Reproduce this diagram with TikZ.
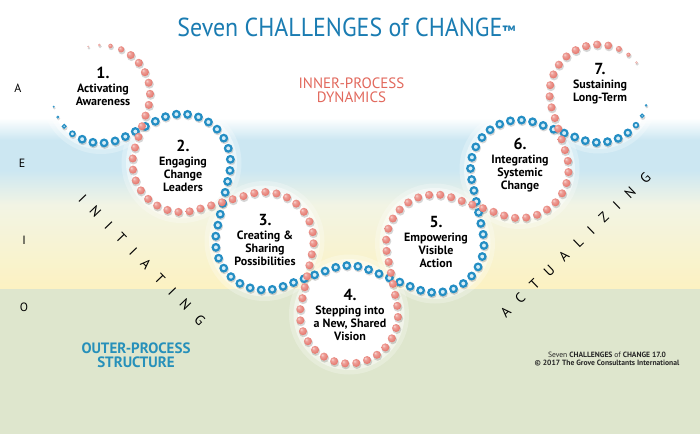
\documentclass[tikz,border=0pt]{standalone}
\usepackage{fontspec}
\usepackage{graphicx}
\setmainfont{PT Sans}
\usetikzlibrary{calc,decorations.markings}

\definecolor{bgblue}{RGB}{204,231,242}
\definecolor{bgmid}{RGB}{242,244,228}
\definecolor{bgyellow}{RGB}{252,242,194}
\definecolor{bggreen}{RGB}{222,230,205}
\definecolor{titleblue}{RGB}{26,124,178}
\definecolor{innerred}{RGB}{226,104,92}
\definecolor{outerblue}{RGB}{38,144,186}
\definecolor{beadred}{RGB}{230,118,108}
\definecolor{beadblue}{RGB}{36,142,196}
\definecolor{beadblueinner}{RGB}{214,238,248}

\pgfdeclareradialshading{redbeadshade}{\pgfpoint{-12bp}{12bp}}{%
  color(0bp)=(white!70!beadred); color(10bp)=(beadred!70!white);
  color(28bp)=(beadred); color(44bp)=(beadred!82!black); color(50bp)=(beadred!68!black)}

\newcommand\bdSetup{%
  \pgftransformresetnontranslations
  \pgfmathsetmacro\bdist{\pgfkeysvalueof{/pgf/decoration/mark info/distance from start}}%
  \pgfmathsetmacro\bfac{min(1,(\bdist+5)/50,(\pgfdecoratedpathlength-\bdist+5)/50)}%
  \pgfmathsetmacro\bsz{4.0*max(\bfac,0.22)}%
}
\newcommand\bdRed{\bdSetup\shade[shading=redbeadshade] (0,0) circle (\bsz);}
\newcommand\bdBlue{\bdSetup\filldraw[fill=beadblueinner, draw=beadblue, line width={0.55*\bsz}] (0,0) circle ({0.82*\bsz});}
\newcommand\bdShadow{\bdSetup\fill[black, opacity=0.16] (0.7,-1.5) circle ({\bsz+0.5});}

\newcommand\lbnum[1]{{\fontsize{16}{16}\selectfont #1}\\[1pt]}

\tikzset{
  redbeads/.style={decorate, decoration={markings, mark=between positions 0 and 1 step 11.2pt with {\bdRed}}},
  bluebeads/.style={decorate, decoration={markings, mark=between positions 0 and 1 step 11.2pt with {\bdBlue}}},
  shadowbeads/.style={decorate, decoration={markings, mark=between positions 0 and 1 step 11.2pt with {\bdShadow}}},
  lab/.style={align=center, anchor=north, inner sep=0pt, text=black, font=\fontsize{12}{13}\selectfont\bfseries},
  side/.style={inner sep=0pt, text=black, font=\fontsize{12}{12}\selectfont},
  diag/.style={inner sep=0pt, text=black, font=\fontsize{14}{14}\selectfont},
  glow/.style={fill=white},
}

\newlength\trk
\setlength\trk{12pt}

\begin{document}
\begin{tikzpicture}[x=1pt,y=1pt]
\useasboundingbox (0,0) rectangle (700,434);
% background bands
\fill[white] (0,0) rectangle (700,434);
\fill[bggreen] (0,0) rectangle (700,146);
\shade[top color=bgmid, bottom color=bgyellow] (0,146) rectangle (700,229);
\shade[top color=bgblue, bottom color=bgmid] (0,229) rectangle (700,264);
\fill[bgblue] (0,264) rectangle (700,294);
\shade[top color=white, bottom color=bgblue] (0,294) rectangle (700,316);

% circle centres
\def\R{49}
\def\xa{101}\def\ya{340}
\def\xb{181.5}\def\yb{271}
\def\xc{264.5}\def\yc{193}
\def\xd{349}\def\yd{119.5}
\def\xe{435}\def\ye{190.5}
\def\xf{519.5}\def\yf{265}
\def\xg{598.5}\def\yg{340.5}
\coordinate (C1) at (\xa,\ya);
\coordinate (C2) at (\xb,\yb);
\coordinate (C3) at (\xc,\yc);
\coordinate (C4) at (\xd,\yd);
\coordinate (C5) at (\xe,\ye);
\coordinate (C6) at (\xf,\yf);
\coordinate (C7) at (\xg,\yg);

\pgfmathsetmacro\tA{atan2(\yb-\ya,\xb-\xa)}
\pgfmathsetmacro\pA{acos(\R/(0.5*veclen(\xb-\xa,\yb-\ya)))}
\pgfmathsetmacro\tB{atan2(\yc-\yb,\xc-\xb)}
\pgfmathsetmacro\pB{acos(\R/(0.5*veclen(\xc-\xb,\yc-\yb)))}
\pgfmathsetmacro\tC{atan2(\yd-\yc,\xd-\xc)}
\pgfmathsetmacro\pC{acos(\R/(0.5*veclen(\xd-\xc,\yd-\yc)))}
\pgfmathsetmacro\tD{atan2(\ye-\yd,\xe-\xd)}
\pgfmathsetmacro\pD{acos(\R/(0.5*veclen(\xe-\xd,\ye-\yd)))}
\pgfmathsetmacro\tE{atan2(\yf-\ye,\xf-\xe)}
\pgfmathsetmacro\pE{acos(\R/(0.5*veclen(\xf-\xe,\yf-\ye)))}
\pgfmathsetmacro\tF{atan2(\yg-\yf,\xg-\xf)}
\pgfmathsetmacro\pF{acos(\R/(0.5*veclen(\xg-\xf,\yg-\yf)))}

% white glowing discs
\foreach \c in {C1,C2,C3,C4,C5,C6,C7}{
  \fill[glow, opacity=0.25] (\c) circle (60);
  \fill[glow, opacity=0.45] (\c) circle (55.5);
  \fill[glow] (\c) circle (51);
}

\def\redpath{($(C1)+(105:\R)$) arc[start angle=105, end angle={\tA+\pA}, radius=\R]
 -- ($(C2)+({\tA+180+\pA}:\R)$) arc[start angle={\tA+180+\pA}, end angle={\tB-\pB+360}, radius=\R]
 -- ($(C3)+({\tB+180-\pB}:\R)$) arc[start angle={\tB+180-\pB}, end angle={\tC+\pC}, radius=\R]
 -- ($(C4)+({\tC+180+\pC}:\R)$) arc[start angle={\tC+180+\pC}, end angle={\tD-\pD+360}, radius=\R]
 -- ($(C5)+({\tD+180-\pD}:\R)$) arc[start angle={\tD+180-\pD}, end angle={\tE+\pE}, radius=\R]
 -- ($(C6)+({\tE+180+\pE}:\R)$) arc[start angle={\tE+180+\pE}, end angle={\tF-\pF+360}, radius=\R]
 -- ($(C7)+({\tF+180-\pF}:\R)$) arc[start angle={\tF+180-\pF}, end angle=28, radius=\R]}
\def\bluepath{($(C1)+(195:\R)$) arc[start angle=195, end angle={\tA-\pA+360}, radius=\R]
 -- ($(C2)+({\tA+180-\pA}:\R)$) arc[start angle={\tA+180-\pA}, end angle={\tB+\pB}, radius=\R]
 -- ($(C3)+({\tB+180+\pB}:\R)$) arc[start angle={\tB+180+\pB}, end angle={\tC-\pC+360}, radius=\R]
 -- ($(C4)+({\tC+180-\pC}:\R)$) arc[start angle={\tC+180-\pC}, end angle={\tD+\pD}, radius=\R]
 -- ($(C5)+({\tD+180+\pD}:\R)$) arc[start angle={\tD+180+\pD}, end angle={\tE-\pE+360}, radius=\R]
 -- ($(C6)+({\tE+180-\pE}:\R)$) arc[start angle={\tE+180-\pE}, end angle={\tF+\pF}, radius=\R]
 -- ($(C7)+({\tF+180+\pF}:\R)$) arc[start angle={\tF+180+\pF}, end angle=357, radius=\R]}

\path[shadowbeads] \redpath;
\path[shadowbeads] \bluepath;
\path[bluebeads] \bluepath;
\path[redbeads] \redpath;

% labels
\node[lab] (L1) at (103,366.6) {\lbnum{1.}Activating\\Awareness};
\node[lab] (L2) at (183,294.6) {\lbnum{2.}Engaging\\Change\\Leaders};
\node[lab] (L3) at (265,219.6) {\lbnum{3.}Creating \&\\Sharing\\Possibilities};
\node[lab] (L4) at (350,144.6) {\lbnum{4.}Stepping into\\a New, Shared\\Vision};
\node[lab] (L5) at (436,217.6) {\lbnum{5.}Empowering\\Visible\\Action};
\node[lab] (L6) at (520,296.6) {\lbnum{6.}Integrating\\Systemic\\Change};
\node[lab] (L7) at (600,370.6) {\lbnum{7.}Sustaining\\Long-Term};

% title and captions
\node[inner sep=0pt, anchor=base, text=titleblue, font=\fontsize{26}{26}\selectfont] (title) at (346.5,397) {\scalebox{0.92}[1]{Seven CHALLENGES of CHANGE{\fontsize{15}{15}\selectfont\bfseries ™}}};
\node[inner sep=0pt, align=center, text=innerred, font=\fontsize{15}{14}\selectfont] (inner) at (351.5,344) {INNER-PROCESS\\DYNAMICS};
\node[inner sep=0pt, align=center, text=outerblue, font=\fontsize{15}{14}\selectfont\bfseries] (outer) at (136,79) {OUTER-PROCESS\\STRUCTURE};
\node[inner sep=0pt, align=center, text=black!85, font=\fontsize{7.6}{8.5}\selectfont\bfseries] (copy) at (607,75) {{\mdseries Seven} CHALLENGES {\mdseries of} CHANGE 17.0\\© 2017 The Grove Consultants International};

% side letters
\node[side] (sA) at (18,346) {A};
\node[side] (sE) at (22,271) {E};
\node[side] (sI) at (24,194) {I};
\node[side] (sO) at (24,127) {O};

% diagonal words
\node[diag, rotate=-46] (init) at (142,174) {I\kern\trk N\kern\trk I\kern\trk T\kern\trk I\kern\trk A\kern\trk T\kern\trk I\kern\trk N\kern\trk G};
\node[diag, rotate=44] (actu) at (575.5,189) {A\kern\trk C\kern\trk T\kern\trk U\kern\trk A\kern\trk L\kern\trk I\kern\trk Z\kern\trk I\kern\trk N\kern\trk G};
\end{tikzpicture}
\end{document}
